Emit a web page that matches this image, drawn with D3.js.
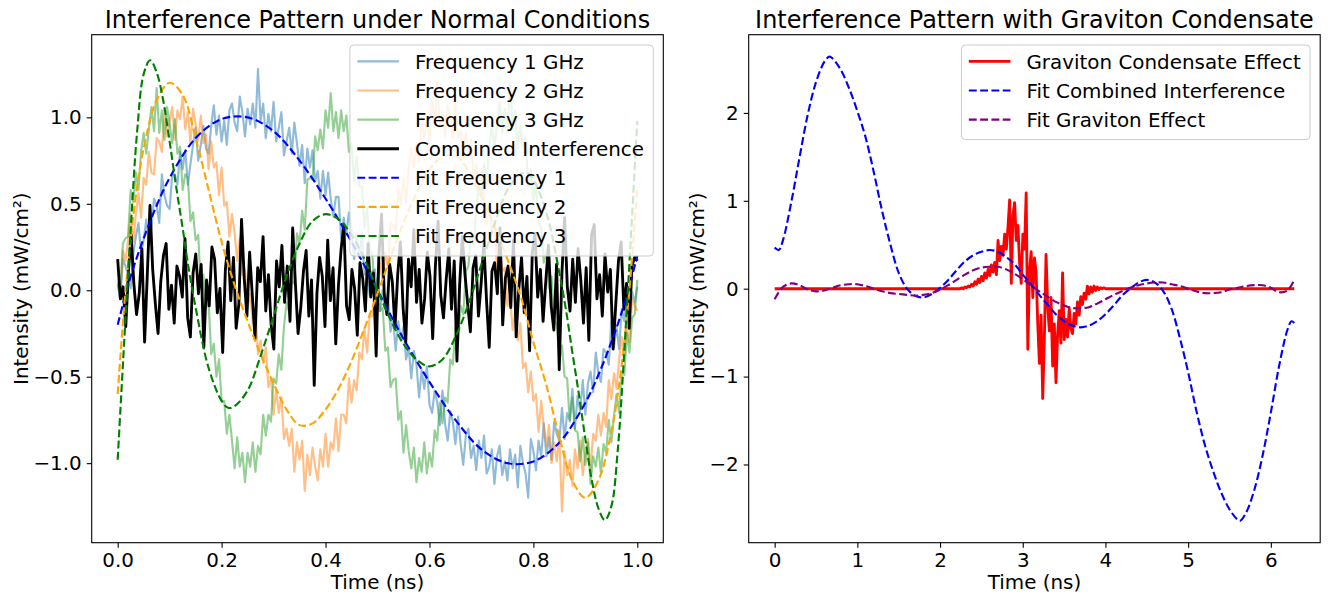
<!DOCTYPE html>
<html>
<head>
<meta charset="utf-8">
<script src="https://cdn.jsdelivr.net/npm/d3@7"></script>
<style>
body { margin: 0; background: #fff; }
svg text { font-family: "DejaVu Sans", sans-serif; fill: #000; }
</style>
</head>
<body>
<svg id="chart" width="1330" height="595"></svg>
<script>
// ---------- left panel: measured signals (sampled evenly over 0..1 ns) ----------
var freq1 = [0.03,-0.05,0.18,0.14,0.09,0.01,0.21,0.31,0.39,0.22,0.29,0.41,0.26,0.37,0.53,0.49,0.39,0.67,0.55,0.49,
  0.47,0.67,0.67,0.61,0.80,0.70,0.81,0.61,0.73,0.84,0.94,0.75,0.84,0.95,0.82,0.79,0.95,1.07,0.90,1.01,
  0.86,0.98,0.84,1.04,1.08,0.97,0.92,1.12,1.03,0.89,1.05,0.96,1.08,0.94,1.28,0.98,1.08,0.88,1.02,0.92,
  1.09,0.86,0.94,1.03,0.78,0.86,0.94,0.79,0.97,0.85,0.72,0.84,0.62,0.82,0.71,0.81,0.63,0.69,0.53,0.69,
  0.55,0.68,0.53,0.43,0.54,0.54,0.30,0.42,0.32,0.45,0.35,0.18,0.32,0.19,0.33,0.09,0.13,-0.03,0.11,0.12,
  -0.04,-0.12,0.00,-0.11,-0.02,-0.24,-0.16,-0.35,-0.18,-0.29,-0.21,-0.40,-0.33,-0.51,-0.35,-0.43,-0.62,-0.46,-0.57,-0.44,
  -0.66,-0.71,-0.58,-0.65,-0.78,-0.58,-0.77,-0.87,-0.70,-0.76,-0.89,-0.73,-0.89,-1.01,-0.84,-0.80,-0.97,-0.90,-1.04,-0.87,
  -0.97,-0.84,-1.06,-1.02,-0.92,-1.12,-0.96,-0.90,-1.07,-0.99,-1.10,-0.92,-1.03,-0.95,-1.14,-0.90,-1.00,-1.06,-1.20,-0.86,
  -0.93,-1.04,-0.87,-0.96,-0.77,-0.96,-0.85,-0.98,-0.76,-0.83,-0.87,-0.68,-0.86,-0.71,-0.75,-0.57,-0.80,-0.61,-0.70,-0.52,
  -0.72,-0.54,-0.47,-0.59,-0.36,-0.48,-0.53,-0.34,-0.36,-0.43,-0.18,-0.33,-0.21,-0.34,-0.11,-0.18,-0.03,-0.16,-0.01,-0.07,
  0.02];

var freq2 = [0.05,-0.01,0.23,0.17,0.29,0.44,0.28,0.44,0.56,0.42,0.65,0.61,0.80,0.68,0.67,0.88,0.86,0.80,1.05,0.89,
  0.98,1.06,0.87,1.04,0.99,1.12,0.93,1.03,0.85,1.05,0.96,0.87,1.01,0.85,0.90,0.70,0.86,0.71,0.74,0.55,
  0.71,0.49,0.51,0.31,0.44,0.33,0.17,0.30,0.09,0.12,-0.10,-0.02,-0.19,-0.10,-0.37,-0.29,-0.42,-0.33,-0.56,-0.51,
  -0.72,-0.57,-0.71,-0.62,-0.86,-0.80,-0.90,-0.80,-1.05,-0.88,-0.98,-0.87,-1.16,-0.95,-1.07,-0.91,-1.02,-1.10,-0.92,-1.02,
  -0.83,-1.02,-0.88,-0.92,-0.74,-0.93,-0.72,-0.72,-0.77,-0.51,-0.65,-0.52,-0.58,-0.36,-0.40,-0.22,-0.36,-0.15,-0.15,0.02,
  -0.05,0.16,0.06,0.22,0.13,0.39,0.38,0.34,0.59,0.50,0.65,0.51,0.71,0.82,0.71,0.85,0.74,1.00,0.88,1.00,
  0.87,1.12,0.96,1.20,0.94,1.03,0.89,1.07,1.00,0.88,1.08,0.88,0.92,0.76,0.91,0.78,0.87,0.65,0.73,0.58,
  0.70,0.53,0.38,0.49,0.33,0.40,0.12,0.24,0.11,0.13,-0.09,-0.03,-0.23,-0.13,-0.29,-0.19,-0.45,-0.42,-0.59,-0.47,
  -0.64,-0.60,-0.82,-0.64,-0.79,-0.90,-0.78,-1.00,-0.88,-0.99,-0.85,-1.28,-0.93,-1.07,-0.98,-1.13,-0.92,-1.03,-0.87,-1.07,
  -0.94,-0.86,-1.03,-0.83,-0.87,-0.72,-0.84,-0.71,-0.79,-0.52,-0.63,-0.48,-0.57,-0.40,-0.27,-0.38,-0.21,-0.30,-0.05,-0.09,
  -0.12];

var freq3 = [0.04,-0.01,0.27,0.30,0.31,0.58,0.51,0.68,0.58,0.80,0.91,0.79,0.93,1.06,0.92,1.17,0.91,1.04,0.87,1.06,
  0.96,0.85,0.99,0.79,0.83,0.58,0.67,0.65,0.40,0.45,0.29,0.32,0.02,0.09,-0.10,-0.07,-0.37,-0.31,-0.50,-0.40,
  -0.64,-0.64,-0.83,-0.72,-0.87,-1.03,-0.85,-1.02,-0.94,-1.11,-0.94,-1.02,-0.88,-1.05,-0.90,-0.95,-0.72,-0.84,-0.72,-0.76,
  -0.51,-0.54,-0.37,-0.46,-0.21,-0.07,-0.13,0.05,0.04,0.33,0.27,0.46,0.35,0.64,0.65,0.64,0.89,0.81,0.93,0.82,
  1.04,0.94,1.14,0.92,1.03,0.88,1.04,0.92,1.01,0.80,0.85,0.63,0.77,0.60,0.60,0.36,0.48,0.23,0.21,-0.01,
  0.07,-0.12,-0.10,-0.35,-0.33,-0.56,-0.52,-0.51,-0.75,-0.70,-0.94,-0.78,-0.93,-1.03,-0.91,-1.11,-0.97,-1.05,-0.88,-1.06,
  -0.94,-1.02,-0.81,-0.87,-0.65,-0.77,-0.62,-0.65,-0.40,-0.43,-0.21,-0.29,-0.09,-0.14,0.11,0.14,0.34,0.26,0.46,0.62,
  0.54,0.73,0.61,0.83,0.94,0.83,0.95,1.09,0.91,1.05,0.90,1.20,0.95,1.04,0.82,0.95,0.83,0.88,0.60,0.70,
  0.52,0.61,0.39,0.36,0.16,0.23,0.01,0.08,-0.19,-0.19,-0.41,-0.32,-0.50,-0.51,-0.76,-0.62,-0.81,-0.82,-0.99,-0.85,
  -1.01,-0.88,-1.12,-0.96,-1.02,-0.91,-1.06,-0.89,-0.94,-0.75,-0.88,-0.73,-0.60,-0.71,-0.48,-0.49,-0.25,-0.36,-0.16,-0.14,
  0.06];

var combined = [0.18,-0.05,0.02,-0.21,0.11,0.32,0.04,-0.14,-0.02,0.24,-0.30,0.09,0.49,0.12,-0.08,-0.25,0.05,0.20,0.27,-0.11,
  0.03,-0.19,0.14,0.08,-0.04,0.30,-0.16,-0.27,0.10,0.21,-0.02,0.15,-0.33,0.06,-0.09,0.25,0.18,-0.13,0.01,-0.36,
  0.12,0.28,-0.06,0.19,-0.22,-0.08,0.41,0.07,-0.15,0.22,-0.03,-0.28,0.13,0.05,0.31,-0.12,0.09,-0.20,-0.34,0.17,
  0.02,0.26,-0.07,0.14,-0.18,0.36,0.04,-0.25,-0.10,0.11,0.23,-0.15,0.06,-0.55,-0.02,0.19,0.08,-0.21,0.29,-0.06,
  0.13,-0.31,0.03,0.24,0.38,-0.09,-0.17,0.12,0.01,-0.26,0.16,0.07,-0.12,0.27,-0.04,0.10,-0.38,0.20,0.44,-0.02,
  -0.14,0.15,0.05,-0.22,0.09,0.28,-0.10,-0.30,0.18,0.02,0.35,-0.07,0.12,-0.19,-0.05,0.22,0.08,-0.28,0.14,0.40,
  -0.03,-0.16,0.06,0.24,-0.11,0.17,-0.41,0.03,0.31,0.09,-0.08,-0.24,0.13,0.20,-0.15,0.04,0.27,-0.06,-0.33,0.11,
  0.16,-0.02,0.36,-0.20,0.07,0.14,-0.10,0.29,-0.27,0.01,0.19,-0.13,0.08,-0.35,0.22,0.33,-0.04,0.12,-0.18,0.05,
  0.26,-0.09,-0.23,0.15,-0.46,0.10,0.42,0.02,-0.12,0.18,-0.07,0.24,0.06,-0.19,0.13,-0.29,0.32,0.38,-0.05,0.09,
  -0.15,0.21,-0.01,0.12,-0.34,-0.08,0.17,0.28,-0.11,0.04,-0.22,0.14,0.19,0.17];

// fitted curves (time, value)
var fit1T = [0,0.025,0.05,0.075,0.1,0.15,0.2,0.25,0.3,0.35,0.4,0.45,0.5,0.55,0.6,0.65,0.7,0.75,0.8,0.85,0.9,0.925,0.95,0.975,1.0];
var fit1V = [-0.20,0.08,0.30,0.49,0.65,0.88,0.99,1.00,0.92,0.75,0.53,0.28,0.00,-0.28,-0.53,-0.75,-0.92,-1.00,-0.99,-0.88,-0.65,-0.49,-0.30,-0.08,0.20];

var fit2T = [0,0.0125,0.025,0.0375,0.05,0.075,0.1,0.125,0.15,0.175,0.2,0.225,0.25,0.275,0.3,0.325,0.35,0.375,0.4,0.425,0.45,0.475,0.5,0.525,0.55,0.575,0.6,0.625,0.65,0.675,0.7,0.725,0.75,0.775,0.8,0.825,0.85,0.875,0.9,0.925,0.95,0.9625,0.975,0.9875,1.0];
var fit2V = [-0.60,-0.10,0.30,0.60,0.82,1.10,1.20,1.13,0.88,0.58,0.28,0.03,-0.18,-0.37,-0.54,-0.69,-0.78,-0.77,-0.69,-0.57,-0.41,-0.22,-0.02,0.19,0.39,0.56,0.70,0.77,0.78,0.69,0.54,0.37,0.18,-0.03,-0.30,-0.55,-0.85,-1.10,-1.20,-1.10,-0.82,-0.60,-0.30,0.10,0.60];

var fit3T = [0,0.0125,0.025,0.0375,0.05,0.0625,0.075,0.0875,0.1,0.1125,0.125,0.1375,0.15,0.175,0.2,0.2125,0.225,0.25,0.275,0.3,0.325,0.35,0.375,0.4,0.425,0.45,0.475,0.5,0.525,0.55,0.575,0.6,0.625,0.65,0.675,0.7,0.725,0.75,0.775,0.7875,0.8,0.825,0.85,0.8625,0.875,0.8875,0.9,0.9125,0.925,0.9375,0.95,0.9625,0.975,0.9875,1.0];
var fit3V = [-0.98,-0.30,0.35,0.92,1.25,1.33,1.26,1.10,0.86,0.60,0.36,0.11,-0.10,-0.45,-0.64,-0.68,-0.67,-0.58,-0.38,-0.15,0.08,0.27,0.40,0.44,0.41,0.32,0.18,0.00,-0.17,-0.31,-0.40,-0.44,-0.40,-0.27,-0.08,0.15,0.38,0.58,0.67,0.68,0.64,0.45,0.10,-0.11,-0.36,-0.60,-0.86,-1.10,-1.26,-1.33,-1.25,-0.92,-0.35,0.30,0.98];

// ---------- right panel: graviton condensate (sampled evenly over 0..2π ns) ----------
var graviton = [0,0,0,0,0,0,0,0,0,0, 0,0,0,0,0,0,0,0,0,0, 0,0,0,0,0,0,0,0,0,0, 0,0,0,0,0,0,0,0,0,0,
  0,0,0,0,0,0,0,0,0,0, 0,0,0,0,0,0,0,0,0,0, 0,0,0,0,0,0,0,0,0,0, 0,0,0,0,0,0,0,0,0,0,
  0,0,0,0,0,0,0,0,0,0, 0,0,0,0,0,0,0,0,0,0, 0,0,0,0,0,0,0,0,0,0, 0,0,0,
  0.01,0.00,0.02,0.01,0.03,0.02,0.05,0.03,0.08,0.05,
  0.11,0.07,0.14,0.09,0.18,0.12,0.22,0.15,0.27,0.19,
  0.30,0.16,0.55,0.32,0.48,0.38,0.62,0.45,0.70,1.01,
  0.06,0.83,0.98,0.55,0.72,0.30,0.06,0.62,0.45,1.09,
  -0.69,0.20,0.42,-0.10,0.35,0.18,-0.40,-0.85,-0.30,-1.25,
  -0.55,0.39,-0.20,-0.48,-0.10,-0.88,-0.40,-1.07,-0.52,-0.25,
  -0.62,0.18,-0.58,-0.35,-0.55,-0.22,-0.45,-0.51,-0.28,-0.40,
  -0.15,-0.30,-0.09,-0.18,-0.05,-0.12,0.03,-0.06,0.02,-0.04,
  0.03,-0.02,0.02,-0.01,0.01,0.00,0.01,
  0,0,0,0,0,0,0,0,0,0, 0,0,0,0,0,0,0,0,0,0, 0,0,0,0,0,0,0,0,0,0, 0,0,0,0,0,0,0,0,0,0,
  0,0,0,0,0,0,0,0,0,0, 0,0,0,0,0,0,0,0,0,0, 0,0,0,0,0,0,0,0,0,0, 0,0,0,0,0,0,0,0,0,0,
  0,0,0,0,0,0,0,0,0,0, 0,0,0,0,0,0,0,0,0,0, 0,0,0,0,0,0,0,0,0,0, 0,0,0,0,0];

var fitCombT = [0,0.05,0.1,0.2,0.3,0.4,0.5,0.6,0.66,0.7,0.8,0.9,1.0,1.1,1.2,1.3,1.4,1.5,1.6,1.7,1.8,1.9,2.0,2.1,2.2,2.3,2.4,2.5,2.6,2.7,2.8,2.9,3.0,3.1,3.2,3.3,3.4,3.5,3.6,3.7,3.8,3.9,4.0,4.1,4.2,4.3,4.4,4.5,4.6,4.7,4.8,4.9,5.0,5.1,5.2,5.3,5.4,5.5,5.6,5.63,5.7,5.8,5.9,6.0,6.1,6.2,6.25,6.2832];
var fitCombV = [0.47,0.44,0.55,0.98,1.49,1.98,2.35,2.58,2.64,2.62,2.49,2.28,2.02,1.72,1.32,0.88,0.50,0.18,0.00,-0.08,-0.10,-0.06,0.01,0.10,0.21,0.31,0.38,0.42,0.44,0.42,0.36,0.28,0.16,0.05,-0.07,-0.18,-0.29,-0.37,-0.42,-0.44,-0.42,-0.37,-0.29,-0.19,-0.08,0.00,0.07,0.10,0.07,-0.03,-0.23,-0.56,-0.95,-1.39,-1.77,-2.07,-2.32,-2.51,-2.63,-2.64,-2.55,-2.29,-1.90,-1.41,-0.88,-0.47,-0.37,-0.39];

var fitGravT = [0,0.1,0.2,0.3,0.4,0.5,0.6,0.7,0.8,0.9,1.0,1.1,1.2,1.3,1.4,1.5,1.6,1.7,1.8,1.9,2.0,2.1,2.2,2.3,2.4,2.5,2.6,2.7,2.8,2.9,3.0,3.1,3.2,3.3,3.4,3.5,3.6,3.7,3.8,3.9,4.0,4.1,4.2,4.3,4.4,4.5,4.6,4.7,4.8,4.9,5.0,5.1,5.2,5.3,5.4,5.5,5.6,5.7,5.8,5.9,6.0,6.1,6.2,6.2832];
var fitGravV = [-0.12,0.02,0.06,0.04,-0.01,-0.03,-0.02,0.01,0.04,0.05,0.05,0.03,0.00,-0.03,-0.05,-0.06,-0.07,-0.08,-0.07,-0.05,-0.01,0.04,0.10,0.16,0.21,0.24,0.25,0.25,0.22,0.17,0.11,0.04,-0.03,-0.09,-0.15,-0.19,-0.22,-0.22,-0.21,-0.17,-0.12,-0.07,-0.03,0.01,0.04,0.06,0.07,0.07,0.05,0.03,0.00,-0.03,-0.05,-0.05,-0.04,-0.01,0.01,0.03,0.04,0.04,0.01,-0.04,-0.02,0.10];

// tick labels
var leftXTicks = [0, 0.2, 0.4, 0.6, 0.8, 1.0];
var leftYTicks = [-1.0, -0.5, 0.0, 0.5, 1.0];
var rightXTicks = [0, 1, 2, 3, 4, 5, 6];
var rightYTicks = [-2, -1, 0, 1, 2];

var fontSize = 19.9;
var tickLen = 4.97;
var svg = d3.select("#chart");

function styleAxis(sel) {
    sel.select(".domain").remove();
    sel.selectAll(".tick line").attr("stroke", "#000").attr("stroke-width", 1.1);
    sel.selectAll(".tick text")
        .attr("font-size", fontSize)
        .attr("font-family", "DejaVu Sans")
        .attr("fill", "#000");
}

function makePanel(p) {
    var x = d3.scaleLinear().domain(p.xDomain).range([p.left, p.right]);
    var y = d3.scaleLinear().domain(p.yDomain).range([p.bottom, p.top]);
    var g = svg.append("g");

    g.append("g")
        .attr("transform", "translate(0," + p.bottom + ")")
        .call(d3.axisBottom(x).tickValues(p.xTicks).tickFormat(p.xFormat).tickSize(tickLen).tickPadding(tickLen))
        .call(styleAxis);
    g.append("g")
        .attr("transform", "translate(" + p.left + ",0)")
        .call(d3.axisLeft(y).tickValues(p.yTicks).tickFormat(p.yFormat).tickSize(tickLen).tickPadding(tickLen))
        .call(styleAxis);

    g.append("text")
        .attr("x", (p.left + p.right) / 2)
        .attr("y", 28)
        .attr("text-anchor", "middle")
        .attr("font-size", 23.9)
        .text(p.title);

    g.append("text")
        .attr("x", (p.left + p.right) / 2)
        .attr("y", 589)
        .attr("text-anchor", "middle")
        .attr("font-size", fontSize)
        .text("Time (ns)");

    g.append("text")
        .attr("transform", "translate(" + p.ylabelX + "," + (p.top + p.bottom) / 2 + ") rotate(-90)")
        .attr("text-anchor", "middle")
        .attr("dy", "0.35em")
        .attr("font-size", fontSize)
        .text("Intensity (mW/cm²)");

    var lines = g.append("g");
    return {x: x, y: y, g: g, lines: lines, p: p};
}

function addLine(panel, pts, color, width, opts) {
    opts = opts || {};
    var line = d3.line()
        .x(function(d) { return panel.x(d[0]); })
        .y(function(d) { return panel.y(d[1]); })
        .curve(opts.smooth ? d3.curveCatmullRom : d3.curveLinear);
    panel.lines.append("path")
        .datum(pts)
        .attr("d", line)
        .attr("fill", "none")
        .attr("stroke", color)
        .attr("stroke-width", width)
        .attr("stroke-opacity", opts.opacity || 1)
        .attr("stroke-linejoin", "round")
        .attr("stroke-dasharray", opts.dash ? "7.9,3.4" : null);
}

function evenly(values, span) {
    return values.map(function(v, i) { return [i * span / (values.length - 1), v]; });
}

function frame(panel) {
    var p = panel.p;
    panel.g.append("rect")
        .attr("x", p.left).attr("y", p.top)
        .attr("width", p.right - p.left).attr("height", p.bottom - p.top)
        .attr("fill", "none").attr("stroke", "#000").attr("stroke-width", 1.1);
}

function legend(panel, items, right, top) {
    var lg = panel.g.append("g");
    var box = lg.append("rect");
    var rowGap = 29.1, firstRow = 16.4;
    var texts = [];
    items.forEach(function(it, i) {
        var cy = top + firstRow + i * rowGap;
        var row = lg.append("g").attr("class", "row");
        row.append("line")
            .attr("y1", cy).attr("y2", cy)
            .attr("stroke", it.color)
            .attr("stroke-width", it.width)
            .attr("stroke-opacity", it.opacity || 1)
            .attr("stroke-dasharray", it.dash ? "7.9,3.4" : null);
        var t = row.append("text")
            .attr("y", cy).attr("dy", "0.36em")
            .attr("font-size", fontSize)
            .text(it.label);
        texts.push(t);
    });
    var maxW = d3.max(texts, function(t) { return t.node().getComputedTextLength(); });
    var w = 65 + maxW + 9.3;
    var left = right - w;
    lg.selectAll(".row line").attr("x1", left + 7.4).attr("x2", left + 49);
    lg.selectAll(".row text").attr("x", left + 65);
    var h = firstRow + (items.length - 1) * rowGap + 20;
    box.attr("x", left).attr("y", top).attr("width", w).attr("height", h)
        .attr("rx", 4).attr("fill", "#fff").attr("fill-opacity", 0.8)
        .attr("stroke", "#cccccc").attr("stroke-width", 1);
}

// ---------- left panel ----------
var left = makePanel({
    left: 91.7, right: 663.3, top: 34.7, bottom: 542.7,
    xDomain: [-0.05, 1.05], yDomain: [-1.46, 1.478],
    xTicks: leftXTicks, yTicks: leftYTicks,
    xFormat: d3.format(".1f"), yFormat: d3.format(".1f"),
    ylabelX: 21,
    title: "Interference Pattern under Normal Conditions"
});
addLine(left, evenly(freq1, 1), "#1f77b4", 2.13, {opacity: 0.5});
addLine(left, evenly(freq2, 1), "#ff7f0e", 2.13, {opacity: 0.5});
addLine(left, evenly(freq3, 1), "#2ca02c", 2.13, {opacity: 0.5});
addLine(left, evenly(combined, 1), "#000000", 2.85);
addLine(left, d3.zip(fit1T, fit1V), "blue", 2.13, {dash: true, smooth: true});
addLine(left, d3.zip(fit2T, fit2V), "orange", 2.13, {dash: true, smooth: true});
addLine(left, d3.zip(fit3T, fit3V), "green", 2.13, {dash: true, smooth: true});
frame(left);
legend(left, [
    {label: "Frequency 1 GHz", color: "#1f77b4", width: 2.13, opacity: 0.5},
    {label: "Frequency 2 GHz", color: "#ff7f0e", width: 2.13, opacity: 0.5},
    {label: "Frequency 3 GHz", color: "#2ca02c", width: 2.13, opacity: 0.5},
    {label: "Combined Interference", color: "#000000", width: 2.85},
    {label: "Fit Frequency 1", color: "blue", width: 2.13, dash: true},
    {label: "Fit Frequency 2", color: "orange", width: 2.13, dash: true},
    {label: "Fit Frequency 3", color: "green", width: 2.13, dash: true}
], 653.3, 45);

// ---------- right panel ----------
var right = makePanel({
    left: 748.7, right: 1320.2, top: 34.7, bottom: 542.7,
    xDomain: [-0.314, 6.597], yDomain: [-2.89, 2.89],
    xTicks: rightXTicks, yTicks: rightYTicks,
    xFormat: d3.format("d"), yFormat: d3.format("d"),
    ylabelX: 697,
    title: "Interference Pattern with Graviton Condensate"
});
addLine(right, evenly(graviton, 2 * Math.PI), "red", 2.85);
addLine(right, d3.zip(fitCombT, fitCombV), "blue", 2.13, {dash: true, smooth: true});
addLine(right, d3.zip(fitGravT, fitGravV), "purple", 2.13, {dash: true, smooth: true});
frame(right);
legend(right, [
    {label: "Graviton Condensate Effect", color: "red", width: 2.85},
    {label: "Fit Combined Interference", color: "blue", width: 2.13, dash: true},
    {label: "Fit Graviton Effect", color: "purple", width: 2.13, dash: true}
], 1310, 45);
</script>
</body>
</html>
